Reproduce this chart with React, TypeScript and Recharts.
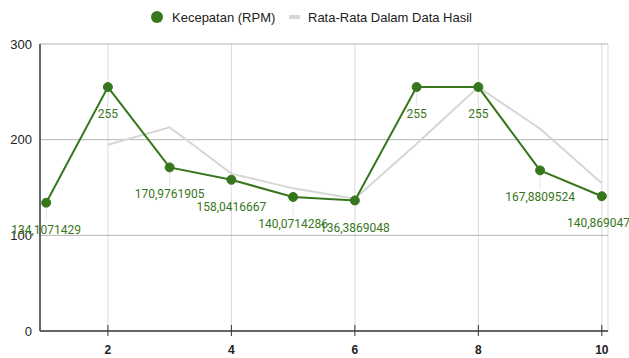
import React from 'react';
import { LineChart, Line, XAxis, YAxis, CartesianGrid, Legend, LabelList } from 'recharts';

// Sample index along the x axis
const sampleIndex = [1, 2, 3, 4, 5, 6, 7, 8, 9, 10];
// Measured speed in RPM for each sample
const speedRpm = [134.1071429, 255, 170.9761905, 158.0416667, 140.0714286, 136.3869048, 255, 255, 167.8809524, 140.8690476];
// Running average series (no value for the first sample)
const averageRpm = [null, 194.6, 213.0, 164.5, 149.1, 138.2, 195.7, 255, 211.4, 154.4];

const xTicks = [2, 4, 6, 8, 10];
const yTicks = [0, 100, 200, 300];

const SPEED_NAME = 'Kecepatan (RPM)';
const AVG_NAME = 'Rata-Rata Dalam Data Hasil';

const GREEN = '#38761d';
const AVG_GRAY = '#d6d6d6';

const data = sampleIndex.map((x, i) => ({ x, speed: speedRpm[i], avg: averageRpm[i] }));

const formatValue = (v: number) => String(v).replace('.', ',');

const ValueLabel = (props: any) => {
  const { x, y, value } = props;
  if (value == null) return null;
  return (
    <g>
      <line x1={x} x2={x} y1={y + 5} y2={y + 19} stroke="#e6e6e6" strokeWidth={1} />
      <text
        x={x}
        y={y + 27}
        textAnchor="middle"
        dominantBaseline="central"
        fill={GREEN}
        fontFamily="Roboto, sans-serif"
        fontSize={12}
      >
        {formatValue(value)}
      </text>
    </g>
  );
};

const XTick = (props: any) => {
  const { x, y, payload } = props;
  return (
    <g>
      <line x1={x} x2={x} y1={y - 6} y2={y + 5} stroke="#333" strokeWidth={1} />
      <text
        x={x}
        y={y + 19}
        textAnchor="middle"
        dominantBaseline="central"
        fill="#222"
        fontFamily="'Liberation Sans', Arial, sans-serif"
        fontWeight="bold"
        fontSize={12}
      >
        {payload.value}
      </text>
    </g>
  );
};

const LegendContent = () => (
  <svg width={629} height={26} style={{ display: 'block' }}>
    <circle cx={157} cy={17} r={6} fill={GREEN} />
    <text x={172} y={17} dominantBaseline="central" fill="#222" fontFamily="'Liberation Sans', Arial, sans-serif" fontSize={13}>
      {SPEED_NAME}
    </text>
    <rect x={289} y={15} width={11} height={4} fill={AVG_GRAY} />
    <text x={308} y={17} dominantBaseline="central" fill="#222" fontFamily="'Liberation Sans', Arial, sans-serif" fontSize={13}>
      {AVG_NAME}
    </text>
  </svg>
);

export default function App() {
  return (
    <div style={{ position: 'absolute', left: 0, top: 0, background: '#fff' }}>
      <LineChart
        width={629}
        height={358}
        data={data}
        margin={{ top: 18, right: 21, left: 0, bottom: 0 }}
      >
        <Legend verticalAlign="top" align="left" content={<LegendContent />} wrapperStyle={{ left: 0, top: 0 }} />
        <CartesianGrid horizontal={false} stroke="#d9d9d9" strokeWidth={1} />
        <CartesianGrid vertical={false} stroke="#b3b3b3" strokeWidth={1} />
        <XAxis
          dataKey="x"
          type="number"
          domain={[0.9, 10.1]}
          ticks={xTicks}
          allowDataOverflow
          height={27}
          tickSize={0}
          tickMargin={0}
          tickLine={false}
          axisLine={{ stroke: '#666', strokeWidth: 2 }}
          tick={<XTick />}
        />
        <YAxis
          domain={[0, 300]}
          ticks={yTicks}
          width={40}
          tickLine={false}
          axisLine={{ stroke: '#666', strokeWidth: 2 }}
          tick={{ fill: '#222', fontSize: 13, fontFamily: "'Liberation Sans', Arial, sans-serif" }}
        />
        <Line
          dataKey="avg"
          name={AVG_NAME}
          stroke={AVG_GRAY}
          strokeWidth={2}
          dot={false}
          activeDot={false}
          connectNulls={false}
          isAnimationActive={false}
        />
        <Line
          dataKey="speed"
          name={SPEED_NAME}
          stroke={GREEN}
          strokeWidth={2}
          dot={{ r: 4.5, fill: GREEN, stroke: GREEN, strokeWidth: 1 }}
          activeDot={false}
          isAnimationActive={false}
        >
          <LabelList dataKey="speed" content={<ValueLabel />} />
        </Line>
      </LineChart>
    </div>
  );
}
